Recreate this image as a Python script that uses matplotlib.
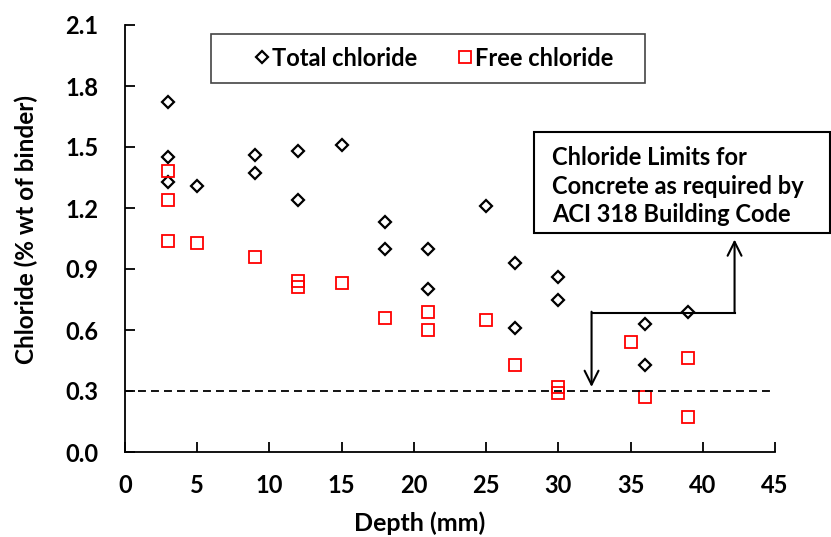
import matplotlib
matplotlib.use("Agg")
import matplotlib.pyplot as plt

plt.rcParams["font.family"] = ["Lato", "DejaVu Sans"]
plt.rcParams["font.weight"] = "bold"

# total chloride (diamonds)
depth_total = [3, 3, 3, 5, 9, 9, 12, 12, 15, 18, 18, 21, 21, 25, 27, 27, 30, 30, 36, 36, 39]
total_cl = [1.72, 1.45, 1.33, 1.31, 1.46, 1.37, 1.48, 1.24, 1.51, 1.13, 1.00, 1.00, 0.80,
            1.21, 0.93, 0.61, 0.86, 0.75, 0.63, 0.43, 0.69]

# free chloride (squares)
depth_free = [3, 3, 3, 5, 9, 12, 12, 15, 18, 21, 21, 25, 27, 30, 30, 35, 36, 39, 39]
free_cl = [1.38, 1.24, 1.04, 1.03, 0.96, 0.84, 0.81, 0.83, 0.66, 0.69, 0.60, 0.65,
           0.43, 0.32, 0.29, 0.54, 0.27, 0.46, 0.17]

aci_limit = 0.3
xticks = list(range(0, 50, 5))
yticks = [0.0, 0.3, 0.6, 0.9, 1.2, 1.5, 1.8, 2.1]

W, H = 831, 537
fig = plt.figure(figsize=(W / 100, H / 100), dpi=100)
ax = fig.add_axes([125 / W, 1 - 452 / H, 650 / W, 427 / H])

ax.plot(depth_total, total_cl, linestyle="none", marker="D", ms=6, mfc="none",
        mec="black", mew=1.6, label="Total chloride")
ax.plot(depth_free, free_cl, linestyle="none", marker="s", ms=8.4, mfc="none",
        mec="#ff0000", mew=1.3, label="Free chloride")

ax.axhline(aci_limit, color="black", lw=1.3, dashes=(4.4, 2.8))

ax.set_xlim(0, 45)
ax.set_ylim(0, 2.1)
ax.set_xticks(xticks)
ax.set_yticks(yticks)
ax.set_yticklabels(["%.1f" % v for v in yticks])
ax.tick_params(direction="in", length=7, width=1.3, labelsize=17)
ax.tick_params(axis="x", pad=16)
ax.tick_params(axis="y", pad=19)
for s in ["top", "right"]:
    ax.spines[s].set_visible(False)
for s in ["left", "bottom"]:
    ax.spines[s].set_linewidth(1.3)

ax.set_xlabel("Depth (mm)", fontsize=18, fontweight="bold")
ax.xaxis.set_label_coords((420 - 125) / 650, -(511 - 452) / 427)
ax.set_ylabel("Chloride (% wt of binder)", fontsize=17.5, fontweight="bold")
ax.yaxis.set_label_coords((38 - 125) / 650, (452 - 229) / 427)

# legend: frameless, with a separate box around it
fs = 17 * 100 / 72
leg = ax.legend(loc="center left", bbox_to_anchor=((262 - 0.3 * fs) / W, 1 - 58 / H),
                bbox_transform=fig.transFigure, ncol=2, fontsize=17, frameon=False,
                borderpad=0, borderaxespad=0, handlelength=0.6, handletextpad=0.13,
                columnspacing=1.7)
for t in leg.get_texts():
    t.set_fontweight("bold")
fig.add_artist(plt.Rectangle((211 / W, 1 - 83 / H), (645 - 211) / W, (83 - 34) / H,
                             transform=fig.transFigure, fill=False,
                             edgecolor="#444444", lw=1.2))

# annotation arrows
arrow = dict(arrowstyle="->", color="black", lw=1.5, mutation_scale=25, shrinkA=0, shrinkB=0)
ax.annotate("", xy=(32.3, 0.32), xytext=(32.3, 0.69), arrowprops=arrow)
ax.plot([32.3, 42.2], [0.685, 0.685], color="black", lw=1.5)
ax.annotate("", xy=(42.2, 1.045), xytext=(42.2, 0.685), arrowprops=arrow)

fig.text(552 / W, 1 - 186 / H,
         "Chloride Limits for\nConcrete as required by\nACI 318 Building Code",
         fontsize=17, fontweight="bold", ha="left", va="center", linespacing=1.3)
fig.add_artist(plt.Rectangle((534 / W, 1 - 232.7 / H), (830 - 534) / W, (232.7 - 131.7) / H,
                             transform=fig.transFigure, fill=False, edgecolor="black", lw=1.5))

fig.savefig("out.png", dpi=100)
